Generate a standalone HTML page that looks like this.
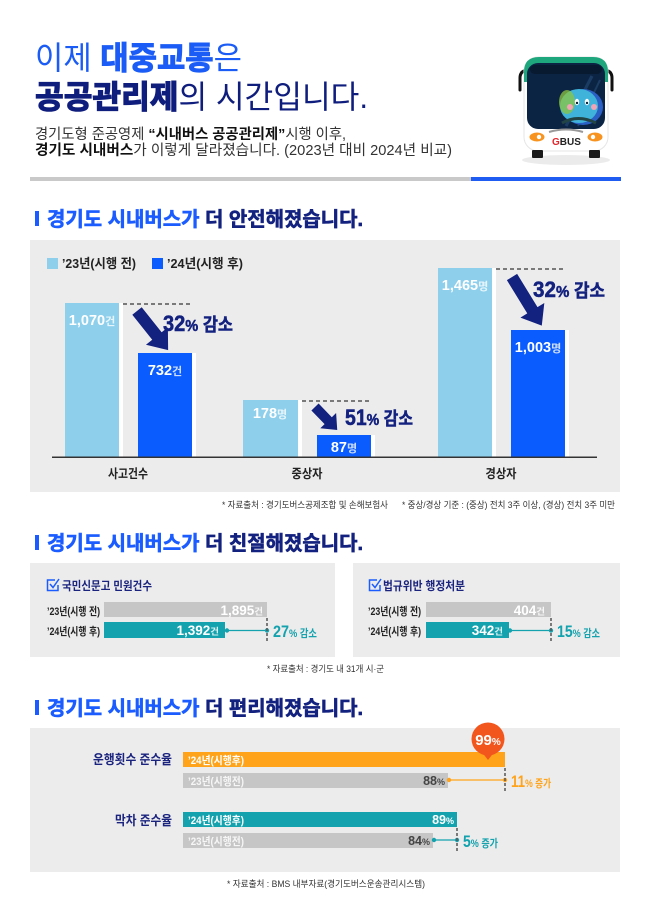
<!DOCTYPE html>
<html lang="ko">
<head>
<meta charset="utf-8">
<style>
html,body{margin:0;padding:0;background:#fff;width:650px;height:920px;overflow:hidden}
svg{display:block}
text{font-family:'Liberation Sans','Noto Sans CJK KR',sans-serif}
</style>
</head>
<body>
<svg width="650" height="920" viewBox="0 0 650 920" xmlns="http://www.w3.org/2000/svg">
<rect width="650" height="920" fill="#fff"/>

<!-- ===== HEADER ===== -->
<text x="35" y="69" font-size="32" fill="#1a5cf5" textLength="207" lengthAdjust="spacingAndGlyphs"><tspan font-weight="400">이제 </tspan><tspan font-weight="700" stroke="#1a5cf5" stroke-width="1">대중교통</tspan><tspan font-weight="400">은</tspan></text>
<text x="35" y="108" font-size="32" fill="#0f1d7d" textLength="333" lengthAdjust="spacingAndGlyphs"><tspan font-weight="700" stroke="#0f1d7d" stroke-width="1.2">공공관리제</tspan><tspan font-weight="400">의 시간입니다.</tspan></text>
<text x="35" y="139" font-size="14.5" fill="#333" textLength="311" lengthAdjust="spacingAndGlyphs">경기도형 준공영제 <tspan font-weight="700" fill="#111">“시내버스 공공관리제”</tspan>시행 이후,</text>
<text x="35" y="155" font-size="14.5" fill="#333" textLength="417" lengthAdjust="spacingAndGlyphs"><tspan font-weight="700" fill="#111">경기도 시내버스</tspan>가 이렇게 달라졌습니다. (2023년 대비 2024년 비교)</text>

<rect x="30" y="177" width="441" height="4" fill="#c9c9c9"/>
<rect x="471" y="177" width="150" height="4" fill="#1f5cf2"/>

<!-- bus icon -->
<g>
<ellipse cx="566" cy="160" rx="44" ry="5" fill="#000" opacity="0.08"/>
<path d="M529 70 Q520 70 520 78 L520 90" stroke="#111" stroke-width="3" fill="none" stroke-linecap="round"/>
<path d="M603 70 Q612 70 612 78 L612 90" stroke="#111" stroke-width="3" fill="none" stroke-linecap="round"/>
<rect x="524" y="57" width="84" height="94" rx="14" fill="#fff" stroke="#e6e6e6"/>
<path d="M524 72 Q524 57 539 57 L593 57 Q608 57 608 72 L608 82 L524 82Z" fill="#1ea77c"/>
<rect x="527" y="63" width="78" height="66" rx="11" fill="#0c2444"/>
<rect x="530" y="65" width="72" height="9" rx="5" fill="#081a30"/>
<path d="M592 76 L566 126" stroke="#1b3c62" stroke-width="3"/>
<path d="M600 80 L578 126" stroke="#1b3c62" stroke-width="2"/>
<ellipse cx="583" cy="107" rx="20" ry="18" fill="#2a5fc4"/>
<ellipse cx="579" cy="106" rx="19" ry="17" fill="#3fb3d9"/>
<ellipse cx="567" cy="102" rx="8" ry="12" fill="#8cc63f" opacity="0.75"/>
<ellipse cx="577" cy="102" rx="2.2" ry="3.2" fill="#fff"/>
<ellipse cx="587" cy="102" rx="2.2" ry="3.2" fill="#fff"/>
<circle cx="577" cy="103" r="1.2" fill="#123"/>
<circle cx="587" cy="103" r="1.2" fill="#123"/>
<circle cx="570" cy="107" r="3" fill="#f3a3b6"/>
<circle cx="594" cy="107" r="3" fill="#f3a3b6"/>
<path d="M562 123 Q578 114 596 123" stroke="#244" stroke-width="3" fill="none"/>
<path d="M549 132 Q566 127 583 132" stroke="#999" stroke-width="2" fill="none"/>
<ellipse cx="537" cy="137" rx="7.5" ry="4.5" fill="#f7931e"/>
<circle cx="539" cy="137" r="2.2" fill="#fff"/>
<ellipse cx="595" cy="137" rx="7.5" ry="4.5" fill="#f7931e"/>
<circle cx="593" cy="137" r="2.2" fill="#fff"/>
<text x="552" y="145" font-size="10" font-weight="700"><tspan fill="#e4262c">G</tspan><tspan fill="#222">BUS</tspan></text>
<rect x="532" y="150" width="11" height="8" rx="1" fill="#1a1a1a"/>
<rect x="589" y="150" width="11" height="8" rx="1" fill="#1a1a1a"/>
</g>

<!-- ===== SECTION 1 ===== -->
<rect x="35" y="211" width="4" height="15" fill="#1a5cff"/>
<text x="47" y="226" font-size="20" font-weight="700" textLength="316" lengthAdjust="spacingAndGlyphs"><tspan fill="#1a5cff" stroke="#1a5cff" stroke-width="0.6">경기도 시내버스가</tspan><tspan fill="#13217f" stroke="#13217f" stroke-width="0.6"> 더 안전해졌습니다.</tspan></text>

<rect x="30" y="240" width="590" height="252" fill="#ececec"/>

<!-- legend -->
<rect x="47" y="258" width="11" height="11" fill="#8ecfec"/>
<text x="62" y="268" font-size="13" font-weight="700" fill="#222" textLength="74" lengthAdjust="spacingAndGlyphs">’23년(시행 전)</text>
<rect x="152" y="258" width="11" height="11" fill="#0a5cff"/>
<text x="167" y="268" font-size="13" font-weight="700" fill="#222" textLength="76" lengthAdjust="spacingAndGlyphs">’24년(시행 후)</text>

<!-- bars group 1 -->
<rect x="69" y="303" width="54" height="154" fill="#fff"/>
<rect x="65" y="303" width="54" height="154" fill="#8ecfec"/>
<rect x="142" y="353" width="54" height="104" fill="#fff"/>
<rect x="138" y="353" width="54" height="104" fill="#0a5cff"/>
<line x1="123" y1="304" x2="192" y2="304" stroke="#555" stroke-width="1.5" stroke-dasharray="4 3"/>
<!-- group 2 -->
<rect x="247" y="400" width="55" height="57" fill="#fff"/>
<rect x="243" y="400" width="55" height="57" fill="#8ecfec"/>
<rect x="321" y="435" width="54" height="22" fill="#fff"/>
<rect x="317" y="435" width="54" height="22" fill="#0a5cff"/>
<line x1="302" y1="401" x2="371" y2="401" stroke="#555" stroke-width="1.5" stroke-dasharray="4 3"/>
<!-- group 3 -->
<rect x="442" y="268" width="54" height="189" fill="#fff"/>
<rect x="438" y="268" width="54" height="189" fill="#8ecfec"/>
<rect x="515" y="330" width="54" height="127" fill="#fff"/>
<rect x="511" y="330" width="54" height="127" fill="#0a5cff"/>
<line x1="496" y1="269" x2="565" y2="269" stroke="#555" stroke-width="1.5" stroke-dasharray="4 3"/>

<!-- axis -->
<rect x="52" y="456.5" width="545" height="1.5" fill="#333"/>

<!-- arrows -->
<g transform="translate(137,311) rotate(51.5)"><polygon points="0,-6 32,-6 32,-14 50,0 32,14 32,6 0,6" fill="#13217f"/></g>
<g transform="translate(315,407) rotate(46)"><polygon points="0,-5 19,-5 19,-11 32,0 19,11 19,5 0,5" fill="#13217f"/></g>
<g transform="translate(512,277) rotate(58.5)"><polygon points="0,-6 39,-6 39,-14 57,0 39,14 39,6 0,6" fill="#13217f"/></g>

<!-- percentages -->
<text x="163" y="331" fill="#13217f" stroke="#13217f" stroke-width="0.5" font-weight="700" textLength="70" lengthAdjust="spacingAndGlyphs"><tspan font-size="22">32</tspan><tspan font-size="16">%</tspan><tspan font-size="18"> 감소</tspan></text>
<text x="345" y="425" fill="#13217f" stroke="#13217f" stroke-width="0.5" font-weight="700" textLength="68" lengthAdjust="spacingAndGlyphs"><tspan font-size="22">51</tspan><tspan font-size="16">%</tspan><tspan font-size="18"> 감소</tspan></text>
<text x="533" y="297" fill="#13217f" stroke="#13217f" stroke-width="0.5" font-weight="700" textLength="72" lengthAdjust="spacingAndGlyphs"><tspan font-size="22">32</tspan><tspan font-size="16">%</tspan><tspan font-size="18"> 감소</tspan></text>

<!-- values -->
<text x="92" y="325" text-anchor="middle" fill="#fff" font-weight="700"><tspan font-size="14.5">1,070</tspan><tspan font-size="11" fill-opacity=".8">건</tspan></text>
<text x="165" y="375" text-anchor="middle" fill="#fff" font-weight="700"><tspan font-size="14.5">732</tspan><tspan font-size="11" fill-opacity=".8">건</tspan></text>
<text x="270" y="418" text-anchor="middle" fill="#fff" font-weight="700"><tspan font-size="14.5">178</tspan><tspan font-size="11" fill-opacity=".8">명</tspan></text>
<text x="344" y="452" text-anchor="middle" fill="#fff" font-weight="700"><tspan font-size="14.5">87</tspan><tspan font-size="11" fill-opacity=".8">명</tspan></text>
<text x="465" y="290" text-anchor="middle" fill="#fff" font-weight="700"><tspan font-size="14.5">1,465</tspan><tspan font-size="11" fill-opacity=".8">명</tspan></text>
<text x="538" y="352" text-anchor="middle" fill="#fff" font-weight="700"><tspan font-size="14.5">1,003</tspan><tspan font-size="11" fill-opacity=".8">명</tspan></text>

<!-- categories -->
<text x="128" y="478" text-anchor="middle" font-size="12.5" font-weight="700" fill="#222" textLength="40" lengthAdjust="spacingAndGlyphs">사고건수</text>
<text x="307" y="478" text-anchor="middle" font-size="12.5" font-weight="700" fill="#222" textLength="31" lengthAdjust="spacingAndGlyphs">중상자</text>
<text x="501" y="478" text-anchor="middle" font-size="12.5" font-weight="700" fill="#222" textLength="31" lengthAdjust="spacingAndGlyphs">경상자</text>

<text x="222" y="508" font-size="9" fill="#333" textLength="166" lengthAdjust="spacingAndGlyphs">* 자료출처 : 경기도버스공제조합 및 손해보험사</text>
<text x="402" y="508" font-size="9" fill="#333" textLength="213" lengthAdjust="spacingAndGlyphs">* 중상/경상 기준 : (중상) 전치 3주 이상, (경상) 전치 3주 미만</text>

<!-- ===== SECTION 2 ===== -->
<rect x="35" y="535" width="4" height="15" fill="#1a5cff"/>
<text x="47" y="550" font-size="20" font-weight="700" textLength="316" lengthAdjust="spacingAndGlyphs"><tspan fill="#1a5cff" stroke="#1a5cff" stroke-width="0.6">경기도 시내버스가</tspan><tspan fill="#13217f" stroke="#13217f" stroke-width="0.6"> 더 친절해졌습니다.</tspan></text>

<rect x="30" y="563" width="305" height="94" fill="#ececec"/>
<rect x="353" y="563" width="267" height="94" fill="#ececec"/>

<!-- left panel -->
<g stroke="#1a5cff" stroke-width="1.5" fill="none">
<path d="M55 580 L47.5 580 L47.5 590.5 L58 590.5 L58 585"/>
<path d="M50 584 L53 587.5 L59 579"/>
</g>
<text x="62" y="590" font-size="12" font-weight="700" fill="#1a237e" textLength="90" lengthAdjust="spacingAndGlyphs">국민신문고 민원건수</text>
<text x="47" y="615" font-size="11" font-weight="700" fill="#222" textLength="53" lengthAdjust="spacingAndGlyphs">’23년(시행 전)</text>
<text x="47" y="635" font-size="11" font-weight="700" fill="#222" textLength="53" lengthAdjust="spacingAndGlyphs">’24년(시행 후)</text>
<rect x="104" y="602" width="163" height="15" fill="#c6c6c6"/>
<rect x="104" y="622" width="121" height="16" fill="#13a2ae"/>
<text x="263" y="615" text-anchor="end" fill="#fff" font-weight="700"><tspan font-size="13.5">1,895</tspan><tspan font-size="9.5" fill-opacity=".85">건</tspan></text>
<text x="219" y="635" text-anchor="end" fill="#fff" font-weight="700"><tspan font-size="13.5">1,392</tspan><tspan font-size="9.5" fill-opacity=".85">건</tspan></text>
<line x1="227" y1="630.5" x2="267" y2="630.5" stroke="#13a2ae" stroke-width="1.2"/>
<circle cx="227" cy="630.5" r="2.2" fill="#13a2ae"/>
<circle cx="267" cy="630.5" r="2.2" fill="#13a2ae"/>
<line x1="267" y1="618" x2="267" y2="643" stroke="#555" stroke-width="1.5" stroke-dasharray="3 2"/>
<text x="273" y="637" fill="#13a2ae" font-weight="700" textLength="44" lengthAdjust="spacingAndGlyphs"><tspan font-size="17">27</tspan><tspan font-size="11">% 감소</tspan></text>

<!-- right panel -->
<g stroke="#1a5cff" stroke-width="1.5" fill="none">
<path d="M377 580 L369.5 580 L369.5 590.5 L380 590.5 L380 585"/>
<path d="M372 584 L375 587.5 L381 579"/>
</g>
<text x="383" y="590" font-size="12" font-weight="700" fill="#1a237e" textLength="82" lengthAdjust="spacingAndGlyphs">법규위반 행정처분</text>
<text x="368" y="615" font-size="11" font-weight="700" fill="#222" textLength="53" lengthAdjust="spacingAndGlyphs">’23년(시행 전)</text>
<text x="368" y="635" font-size="11" font-weight="700" fill="#222" textLength="53" lengthAdjust="spacingAndGlyphs">’24년(시행 후)</text>
<rect x="426" y="602" width="125" height="15" fill="#c6c6c6"/>
<rect x="426" y="622" width="83" height="16" fill="#13a2ae"/>
<text x="545" y="615" text-anchor="end" fill="#fff" font-weight="700"><tspan font-size="13.5">404</tspan><tspan font-size="9.5" fill-opacity=".85">건</tspan></text>
<text x="503" y="635" text-anchor="end" fill="#fff" font-weight="700"><tspan font-size="13.5">342</tspan><tspan font-size="9.5" fill-opacity=".85">건</tspan></text>
<line x1="510" y1="630.5" x2="551" y2="630.5" stroke="#13a2ae" stroke-width="1.2"/>
<circle cx="510" cy="630.5" r="2.2" fill="#13a2ae"/>
<circle cx="551" cy="630.5" r="2.2" fill="#13a2ae"/>
<line x1="551" y1="618" x2="551" y2="643" stroke="#555" stroke-width="1.5" stroke-dasharray="3 2"/>
<text x="557" y="637" fill="#13a2ae" font-weight="700" textLength="43" lengthAdjust="spacingAndGlyphs"><tspan font-size="17">15</tspan><tspan font-size="11">% 감소</tspan></text>

<text x="267" y="672" font-size="9" fill="#333" textLength="117" lengthAdjust="spacingAndGlyphs">* 자료출처 : 경기도 내 31개 시·군</text>

<!-- ===== SECTION 3 ===== -->
<rect x="35" y="700" width="4" height="15" fill="#1a5cff"/>
<text x="47" y="715" font-size="20" font-weight="700" textLength="316" lengthAdjust="spacingAndGlyphs"><tspan fill="#1a5cff" stroke="#1a5cff" stroke-width="0.6">경기도 시내버스가</tspan><tspan fill="#13217f" stroke="#13217f" stroke-width="0.6"> 더 편리해졌습니다.</tspan></text>

<rect x="30" y="728" width="590" height="144" fill="#ececec"/>

<text x="172" y="764" text-anchor="end" font-size="13" font-weight="700" fill="#1a237e" textLength="79" lengthAdjust="spacingAndGlyphs">운행횟수 준수율</text>
<rect x="183" y="752" width="322" height="15" fill="#ffa31a"/>
<text x="188" y="764" font-size="11" font-weight="700" fill="#fff" textLength="56" lengthAdjust="spacingAndGlyphs">’24년(시행후)</text>
<rect x="183" y="773" width="265" height="15" fill="#c6c6c6"/>
<text x="188" y="785" font-size="11" font-weight="700" fill="#f6f6f6" textLength="56" lengthAdjust="spacingAndGlyphs">’23년(시행전)</text>
<text x="445" y="785" text-anchor="end" fill="#444" font-weight="700"><tspan font-size="12.5">88</tspan><tspan font-size="9">%</tspan></text>
<line x1="449" y1="780" x2="505" y2="780" stroke="#ffa31a" stroke-width="1.2"/>
<circle cx="449" cy="780" r="2.2" fill="#ffa31a"/>
<circle cx="505" cy="780" r="2.2" fill="#ffa31a"/>
<line x1="505" y1="768" x2="505" y2="793" stroke="#555" stroke-width="1.5" stroke-dasharray="3 2"/>
<text x="511" y="787" fill="#ffa31a" font-weight="700" textLength="40" lengthAdjust="spacingAndGlyphs"><tspan font-size="17">11</tspan><tspan font-size="11">% 증가</tspan></text>

<!-- 99% bubble -->
<circle cx="488" cy="739" r="16.5" fill="#f2561d"/>
<polygon points="481,751 495,751 488,760" fill="#f2561d"/>
<text x="488" y="745" text-anchor="middle" fill="#fff" font-weight="700"><tspan font-size="15">99</tspan><tspan font-size="10">%</tspan></text>

<text x="172" y="825" text-anchor="end" font-size="13" font-weight="700" fill="#1a237e" textLength="57" lengthAdjust="spacingAndGlyphs">막차 준수율</text>
<rect x="183" y="812" width="274" height="15" fill="#13a2ae"/>
<text x="188" y="824" font-size="11" font-weight="700" fill="#fff" textLength="56" lengthAdjust="spacingAndGlyphs">’24년(시행후)</text>
<text x="454" y="824" text-anchor="end" fill="#fff" font-weight="700"><tspan font-size="12.5">89</tspan><tspan font-size="9">%</tspan></text>
<rect x="183" y="833" width="250" height="15" fill="#c6c6c6"/>
<text x="188" y="845" font-size="11" font-weight="700" fill="#f6f6f6" textLength="56" lengthAdjust="spacingAndGlyphs">’23년(시행전)</text>
<text x="430" y="845" text-anchor="end" fill="#444" font-weight="700"><tspan font-size="12.5">84</tspan><tspan font-size="9">%</tspan></text>
<line x1="434" y1="840" x2="457" y2="840" stroke="#13a2ae" stroke-width="1.2"/>
<circle cx="434" cy="840" r="2.2" fill="#13a2ae"/>
<circle cx="457" cy="840" r="2.2" fill="#13a2ae"/>
<line x1="457" y1="828" x2="457" y2="852" stroke="#555" stroke-width="1.5" stroke-dasharray="3 2"/>
<text x="463" y="847" fill="#13a2ae" font-weight="700" textLength="35" lengthAdjust="spacingAndGlyphs"><tspan font-size="17">5</tspan><tspan font-size="11">% 증가</tspan></text>

<text x="227" y="887" font-size="9" fill="#333" textLength="198" lengthAdjust="spacingAndGlyphs">* 자료출처 : BMS 내부자료(경기도버스운송관리시스템)</text>
</svg>
</body>
</html>
